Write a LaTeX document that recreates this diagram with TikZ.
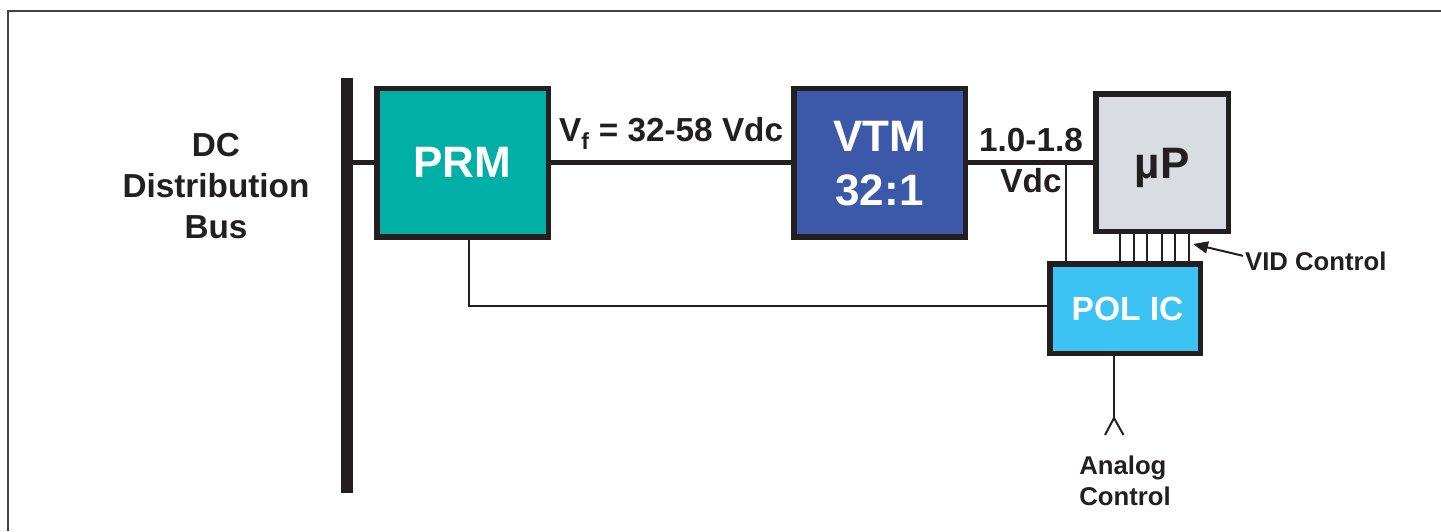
\documentclass[tikz,border=0pt]{standalone}
\usepackage{fontspec}
\setmainfont{Liberation Sans}
\usetikzlibrary{arrows.meta,positioning}
\definecolor{inkblack}{HTML}{231F20}
\definecolor{prmteal}{HTML}{00AFA5}
\definecolor{vtmblue}{HTML}{3B59A8}
\definecolor{upgrey}{HTML}{D9DCE0}
\definecolor{polcyan}{HTML}{3CC3F3}

\begin{document}
\begin{tikzpicture}[x=1pt, y=-1pt, font=\bfseries, text=inkblack,
      box/.style={draw=inkblack, line width=5.5pt, align=center, inner sep=0pt, text=white},
      lab/.style={align=center, inner sep=0pt, font=\fontsize{33.3}{41}\bfseries\selectfont},
      small/.style={align=left, inner sep=0pt, font=\fontsize{25.7}{31}\bfseries\selectfont},
      main/.style={draw=inkblack, line width=4.5pt},
      sig/.style={draw=inkblack, line width=2pt},
      ar/.style={sig, {Triangle[length=15pt, width=12pt]}-}]
    \useasboundingbox (0,0) rectangle (1441,531);
    \draw[inkblack!85, line width=2pt] (7.5,531) -- (7.5,10.5) -- (1441,10.5);

    \node[fill=inkblack, minimum width=12pt, minimum height=415pt, inner sep=0pt] (bus) at (347,285.5) {};
    \node[box, fill=prmteal, minimum width=171.5pt, minimum height=148.5pt, font=\fontsize{44}{50}\bfseries\selectfont] (prm) at (462.5,162.5) {PRM};
    \node[box, fill=vtmblue, minimum width=171.5pt, minimum height=148.5pt, right=240pt of prm, font=\fontsize{44}{54}\bfseries\selectfont] (vtm) {\rule{0pt}{33pt}VTM\\32:1};
    \node[box, fill=upgrey, text=inkblack, minimum width=132.5pt, minimum height=137.5pt, text height=31pt, text depth=0pt, font=\fontsize{44}{50}\bfseries\selectfont] (up) at (1162,162.5) {µP};
    \node[box, fill=polcyan, minimum width=150.5pt, minimum height=89.5pt, font=\fontsize{33.5}{40}\bfseries\selectfont] (pol) at (1125,308.5) {\hspace*{5pt}POL IC};

    \node[lab] (dcbus) at (216,186) {DC\\Distribution\\Bus};
    \node[lab, anchor=base west] (vf) at (559,141) {V\textsubscript{f} = 32-58 Vdc};
    \node[lab, anchor=base] (vlow) at (1031,151) {1.0-1.8};
    \node[lab, anchor=base] (vdc) at (1031,192) {Vdc};
    \node[small, anchor=base west] (vid) at (1245,270) {VID Control};
    \node[small, anchor=north] (analog) at (1125,456) {Analog\\Control};

    \coordinate (tap) at (1066,162.5);
    \coordinate (vidtip) at (1193,244);
    \coordinate (ant) at (1114,418);
    \coordinate (antl) at (1105,435);
    \coordinate (antr) at (1123.5,435);

    \draw[main] (prm.west -| bus.east) -- (prm.west);
    \draw[main] (prm) -- (vtm);
    \draw[main] (vtm) -- (up);
    \draw[sig] ([xshift=6.5pt]prm.south) |- ([yshift=2.5pt]pol.west);
    \draw[sig] (tap) -- (tap |- pol.north);
    \foreach \dx in {-42,-28.5,-15,-0.5,13,27}
      \draw[sig] ([xshift=\dx pt]up.south) -- ([xshift=\dx pt]up.south |- pol.north);
    \draw[sig] ([xshift=-11pt]pol.south) -- (ant);
    \draw[sig] (antl) -- (ant) -- (antr);
    \draw[ar] (vidtip) -- ([xshift=-2pt,yshift=5pt]vid.west);
\end{tikzpicture}
\end{document}
